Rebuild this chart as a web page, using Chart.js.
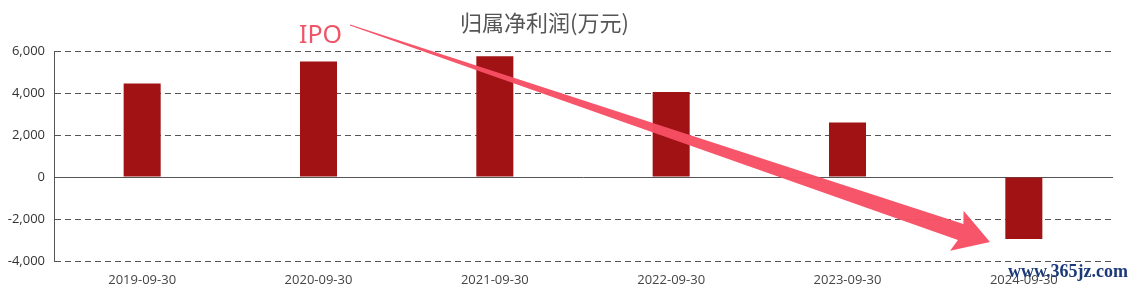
<!DOCTYPE html>
<html><head><meta charset="utf-8">
<script src="https://cdn.jsdelivr.net/npm/chart.js@4.4.1/dist/chart.umd.min.js"></script>
<style>
html,body{margin:0;padding:0;background:#fff;}
#wrap{position:relative;width:1130px;height:287px;}
canvas{position:absolute;left:0;top:0;}
.t{position:absolute;white-space:nowrap;line-height:1;}
#title{left:460px;top:5px;font:22px "Noto Sans CJK SC",sans-serif;color:#555;}
#ipo{left:299px;top:16px;font:25px "Noto Sans","Open Sans",sans-serif;color:#ef5567;}
#wm{left:1008px;top:261px;font:bold 18px "Liberation Serif",serif;color:#1d3a78;}
</style></head>
<body><div id="wrap"><canvas id="c" width="1130" height="287"></canvas>
<div class="t" id="title">归属净利润(万元)</div>
<div class="t" id="ipo">IPO</div>
<div class="t" id="wm">www.365jz.com</div>
</div>
<script>
const categories = ["2019-09-30","2020-09-30","2021-09-30","2022-09-30","2023-09-30","2024-09-30"];
const netProfit = [4450, 5500, 5750, 4050, 2600, -2950];
const yTicks = [-4000, -2000, 0, 2000, 4000, 6000];

const arrowPlugin = {
  id: 'arrow',
  afterDraw(chart) {
    const ctx = chart.ctx;
    const S = {x: 350, y: 25}, T = {x: 990, y: 242};
    const dx = T.x - S.x, dy = T.y - S.y, L = Math.hypot(dx, dy);
    const u = {x: dx / L, y: dy / L}, n = {x: -u.y, y: u.x};
    const headLen = 35, headHalf = 21, shaftEnd = 8.5, shaftStart = 0.4;
    const B = {x: T.x - u.x * headLen, y: T.y - u.y * headLen};
    const p = (o, a, b) => [o.x + n.x * a + u.x * b, o.y + n.y * a + u.y * b];
    const pts = [
      p(S, -shaftStart, 0), p(B, -shaftEnd, 4), p(B, -headHalf, 0), p(T, 0, 0),
      p(B, headHalf, 0), p(B, shaftEnd, 4), p(S, shaftStart, 0)
    ];
    ctx.save();
    ctx.fillStyle = 'rgba(247,80,100,0.97)';
    ctx.beginPath();
    ctx.moveTo(pts[0][0], pts[0][1]);
    for (let i = 1; i < pts.length; i++) ctx.lineTo(pts[i][0], pts[i][1]);
    ctx.closePath();
    ctx.fill();
    ctx.restore();
  }
};

new Chart(document.getElementById('c'), {
  type: 'bar',
  data: {
    labels: categories,
    datasets: [{
      data: netProfit,
      backgroundColor: '#a01213',
      borderWidth: 0,
      barPercentage: 0.21,
      categoryPercentage: 1.0
    }]
  },
  options: {
    responsive: false,
    animation: false,
    layout: {padding: {left: 0, right: 18, top: 51, bottom: 0}},
    plugins: {legend: {display: false}, title: {display: false}, tooltip: {enabled: false}},
    scales: {
      x: {
        grid: {display: false},
        border: {display: false},
        ticks: {color: '#444', font: {family: '"Open Sans","Noto Sans",sans-serif', size: 13}, padding: 3, maxRotation: 0, autoSkip: false},
        afterFit(s) { s.height = 26; }
      },
      x0: {
        type: 'category',
        position: {y: 0},
        grid: {display: false},
        ticks: {display: false},
        border: {display: true, color: '#555', width: 1}
      },
      y: {
        min: -4000, max: 6000,
        afterBuildTicks(s) { s.ticks = yTicks.map(v => ({value: v})); },
        grid: {color: '#555', lineWidth: 1, drawTicks: false},
        border: {display: true, color: '#555', width: 1, dash: [6, 4]},
        ticks: {color: '#333', font: {family: '"Open Sans","Noto Sans",sans-serif', size: 13}, padding: 9,
          callback: v => v.toLocaleString('en-US')},
        afterFit(s) { s.width = 54; }
      }
    }
  },
  plugins: [arrowPlugin]
});
</script></body></html>
